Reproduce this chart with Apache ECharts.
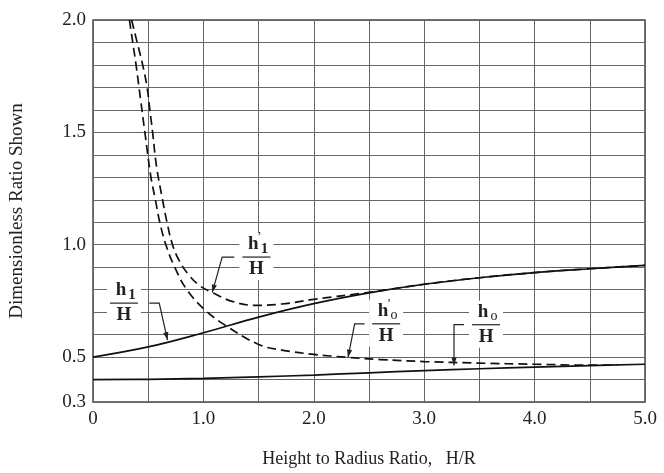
<!DOCTYPE html>
<html>
<head>
<meta charset="utf-8">
<script src="https://cdn.jsdelivr.net/npm/echarts@6/dist/echarts.min.js"></script>
<style>
  html, body { margin: 0; padding: 0; background: #fff; }
  #chart { width: 664px; height: 473px; }
</style>
</head>
<body>
<div id="chart"></div>
<script>
// H/R values for the solid curves
const HR = [0, 0.5, 1.0, 1.5, 2.0, 2.5, 3.0, 3.5, 4.0, 4.5, 5.0]
// h1/H  (solid, upper)
const H1_Y = [0.50, 0.545, 0.608, 0.678, 0.738, 0.786, 0.824, 0.853, 0.876, 0.893, 0.908]
// h0/H  (solid, lower)
const H0_Y = [0.40, 0.401, 0.405, 0.412, 0.42, 0.43, 0.44, 0.448, 0.455, 0.462, 0.468]

// h'1/H  (dashed, outer)
const H1P_X = [0.35, 0.40, 0.45, 0.49, 0.515, 0.54, 0.575, 0.63, 0.67, 0.72, 0.78, 0.86, 0.96, 1.08, 1.26, 1.47, 1.71, 2.0, 2.5, 3.0, 3.5, 4.0, 4.5, 5.0]
const H1P_Y = [2.0, 1.9, 1.8, 1.7, 1.6, 1.5, 1.35, 1.2, 1.1, 1.0, 0.93, 0.87, 0.82, 0.787, 0.748, 0.73, 0.736, 0.757, 0.788, 0.824, 0.853, 0.876, 0.893, 0.908]

// h'0/H  (dashed, inner)
const H0P_X = [0.33, 0.36, 0.39, 0.43, 0.47, 0.525, 0.565, 0.605, 0.66, 0.74, 0.85, 1.02, 1.2, 1.5, 1.71, 2.0, 2.3, 2.6, 3.0, 3.5, 4.0, 4.5, 4.75]
const H0P_Y = [2.0, 1.9, 1.8, 1.65, 1.5, 1.3, 1.2, 1.1, 1.0, 0.9, 0.8, 0.707, 0.641, 0.556, 0.531, 0.512, 0.499, 0.489, 0.48, 0.473, 0.468, 0.464, 0.465]

// tick labels shown on the y axis
const Y_LABELS = [0.3, 0.5, 1.0, 1.5, 2.0]

// curve labels: [x, y] of fraction bar centre, leader start x, knee x, arrow tip [x, y]
const LABELS = [
  { sub: '1', prime: true,  bar: [1.48, 0.945], start: 1.28, knee: 1.17, tip: [1.08, 0.787] },
  { sub: '1', prime: false, bar: [0.28, 0.74],  start: 0.51, knee: 0.60, tip: [0.675, 0.575] },
  { sub: 'o', prime: true,  bar: [2.655, 0.648], start: 2.46, knee: 2.37, tip: [2.31, 0.498] },
  { sub: 'o', prime: false, bar: [3.56, 0.644], start: 3.36, knee: 3.27, tip: [3.27, 0.462] }
]

const SERIF = '"Liberation Serif", "DejaVu Serif", serif'
const zip = (xs, ys) => xs.map((x, i) => [x, ys[i]])

const chart = echarts.init(document.getElementById('chart'))

const lineSeries = (data, dashed) => ({
  type: 'line',
  data: data,
  showSymbol: false,
  smooth: 0.4,
  silent: true,
  z: 3,
  lineStyle: {
    color: '#111',
    width: 1.7,
    type: dashed ? [9, 5] : 'solid'
  }
})

chart.setOption({
  animation: false,
  backgroundColor: '#fff',
  grid: {
    left: 90,
    right: 19,
    top: 20,
    bottom: 63,
    show: true,
    borderColor: '#444',
    borderWidth: 1.5
  },
  xAxis: {
    type: 'value',
    min: 0,
    max: 5,
    interval: 0.5,
    name: 'Height to Radius Ratio,   H/R',
    nameLocation: 'middle',
    nameGap: 48,
    nameTextStyle: { fontFamily: SERIF, fontSize: 18, color: '#222' },
    axisLine: { show: false },
    axisTick: { show: false },
    axisLabel: {
      fontFamily: SERIF,
      fontSize: 19,
      color: '#222',
      margin: 8,
      formatter: v => {
        if (Math.abs(v - Math.round(v)) > 1e-6) return ''
        return v === 0 ? '0' : v.toFixed(1)
      }
    },
    splitLine: { show: true, lineStyle: { color: '#666', width: 1 } }
  },
  yAxis: {
    type: 'value',
    min: 0.3,
    max: 2.0,
    interval: 0.1,
    name: 'Dimensionless Ratio Shown',
    nameLocation: 'middle',
    nameGap: 66,
    nameTextStyle: { fontFamily: SERIF, fontSize: 19, color: '#222' },
    axisLine: { show: false },
    axisTick: { show: false },
    axisLabel: {
      fontFamily: SERIF,
      fontSize: 19,
      color: '#222',
      margin: 7,
      formatter: v => Y_LABELS.some(s => Math.abs(s - v) < 1e-6) ? v.toFixed(1) : ''
    },
    splitLine: { show: true, lineStyle: { color: '#666', width: 1 } }
  },
  series: [
    lineSeries(zip(HR, H1_Y), false),
    lineSeries(zip(HR, H0_Y), false),
    lineSeries(zip(H1P_X, H1P_Y), true),
    lineSeries(zip(H0P_X, H0P_Y), true)
  ]
})

// fraction labels with leader arrows
const toPx = p => chart.convertToPixel({ xAxisIndex: 0, yAxisIndex: 0 }, p)
const graphics = []
LABELS.forEach(lb => {
  const [cx, cy] = toPx(lb.bar)
  const sx = toPx([lb.start, lb.bar[1]])[0]
  const kx = toPx([lb.knee, lb.bar[1]])[0]
  const [tx, ty] = toPx(lb.tip)
  const textStyle = (t, x, y, size, bold) => ({
    type: 'text',
    z: 20,
    style: {
      text: t, x: x, y: y,
      font: (bold ? 'bold ' : '') + size + 'px ' + SERIF,
      fill: '#222',
      align: 'center',
      verticalAlign: 'middle'
    }
  })
  graphics.push({
    type: 'rect', z: 10,
    shape: { x: cx - 17, y: cy - 24, width: 34, height: 47 },
    style: { fill: '#fff' }
  })
  graphics.push(textStyle('h', cx - 3, cy - 13, 19, true))
  if (lb.prime) graphics.push(textStyle('\u2019', cx + 3, cy - 20, 12, false))
  graphics.push(textStyle(lb.sub, cx + 8, cy - 8, lb.sub === 'o' ? 14 : 15, lb.sub === '1'))
  graphics.push(textStyle('H', cx, cy + 12, 19, true))
  graphics.push({
    type: 'line', z: 20,
    shape: { x1: cx - 14, y1: cy, x2: cx + 14, y2: cy },
    style: { stroke: '#333', lineWidth: 1.3 }
  })
  graphics.push({
    type: 'polyline', z: 20,
    shape: { points: [[sx, cy], [kx, cy], [tx, ty]] },
    style: { stroke: '#222', lineWidth: 1.2, fill: null }
  })
  // arrow head along the last segment
  const ang = Math.atan2(ty - cy, tx - kx)
  const len = 8, half = 2.6
  const bx = tx - len * Math.cos(ang), by = ty - len * Math.sin(ang)
  const nx = -Math.sin(ang) * half, ny = Math.cos(ang) * half
  graphics.push({
    type: 'polygon', z: 20,
    shape: { points: [[tx, ty], [bx + nx, by + ny], [bx - nx, by - ny]] },
    style: { fill: '#222' }
  })
})
chart.setOption({ graphic: graphics })
</script>
</body>
</html>
